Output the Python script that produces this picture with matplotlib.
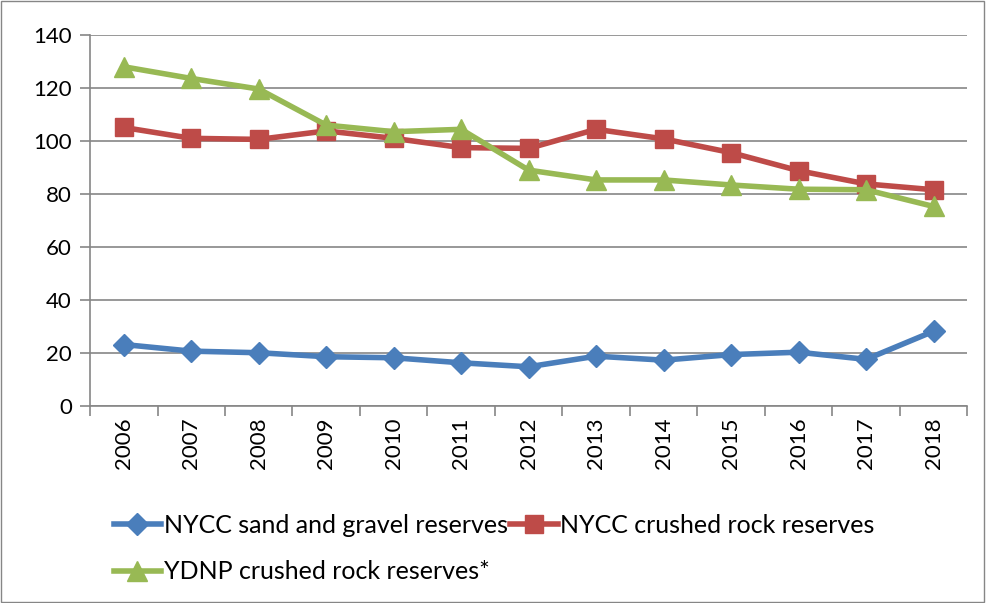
import numpy as np
import matplotlib.pyplot as plt
from matplotlib.patches import Rectangle

years = ['2006', '2007', '2008', '2009', '2010', '2011', '2012',
         '2013', '2014', '2015', '2016', '2017', '2018']
sand_gravel = [23.2, 20.7, 20.1, 18.6, 18.2, 16.3, 14.8, 18.8, 17.3, 19.4, 20.3, 17.6, 28.2]
crushed_rock = [105.1, 101.0, 100.6, 103.8, 101.0, 97.5, 97.2, 104.4, 100.8, 95.6, 88.8, 83.8, 81.6]
ydnp_rock = [128.0, 123.6, 119.6, 106.0, 103.5, 104.4, 89.0, 85.3, 85.3, 83.4, 81.8, 81.6, 75.3]

plt.rcParams['font.family'] = ['Lato', 'DejaVu Sans']

fig = plt.figure(figsize=(9.86, 6.03), dpi=100)
ax = fig.add_axes([0.0913, 0.3267, 0.8897, 0.6153])

x = np.arange(len(years))
l1, = ax.plot(x, sand_gravel, color='#4A7EBB', lw=4, marker='D', ms=11,
              label='NYCC sand and gravel reserves')
l2, = ax.plot(x, crushed_rock, color='#BE4B48', lw=4, marker='s', ms=13,
              label='NYCC crushed rock reserves')
l3, = ax.plot(x, ydnp_rock, color='#98B954', lw=4, marker='^', ms=14,
              label='YDNP crushed rock reserves*')

ax.set_xlim(-0.5, len(years) - 0.5)
ax.set_ylim(0, 140)
ax.set_yticks(np.arange(0, 141, 20))
ax.set_xticks(x)
ax.set_xticklabels(years, rotation=90)
ax.set_xticks(np.arange(-0.5, len(years), 1), minor=True)
ax.tick_params(axis='x', which='major', length=0, labelsize=16, pad=8)
ax.tick_params(axis='x', which='minor', length=7, color='#868686', width=1.2)
ax.tick_params(axis='y', length=7, color='#868686', width=1.2, labelsize=16, pad=6)
ax.grid(axis='y', color='#868686', lw=1.2)
ax.set_axisbelow(True)
for s in ['top', 'right']:
    ax.spines[s].set_visible(False)
for s in ['left', 'bottom']:
    ax.spines[s].set_color('#868686')
    ax.spines[s].set_linewidth(1.2)

# column-major fill: first column gets sand + YDNP, second column gets crushed rock
fig.legend([l1, l3, l2], [l1.get_label(), l3.get_label(), l2.get_label()],
           loc='upper left', bbox_to_anchor=(0.105, 0.165), ncol=2, frameon=False,
           fontsize=18, handlelength=1.9, columnspacing=0.1, handletextpad=0.1,
           labelspacing=0.95, borderaxespad=0)

fig.patches.append(Rectangle((0.001, 0.001), 0.997, 0.997, transform=fig.transFigure,
                             fill=False, edgecolor='#868686', lw=1))

plt.savefig('out.png', dpi=100)
plt.close()
